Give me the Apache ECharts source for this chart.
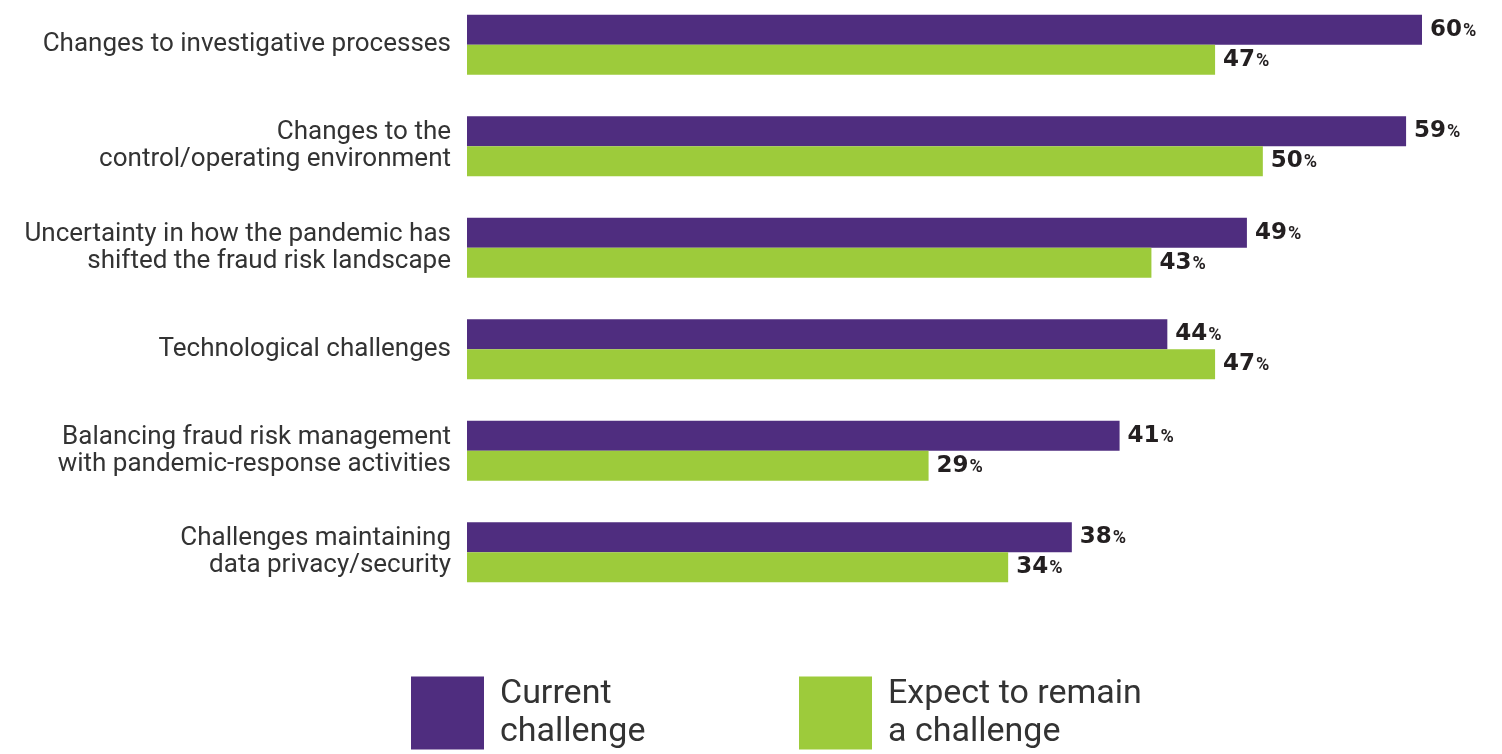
<!DOCTYPE html>
<html><head><meta charset="utf-8">
<script src="https://cdn.jsdelivr.net/npm/echarts@6/dist/echarts.min.js"></script>
<style>html,body{margin:0;padding:0;background:#fff;overflow:hidden}#c{width:1502px;height:760px;margin-top:-6px}</style>
</head><body><div id="c"></div>
<script>
const categories = [
  "Changes to investigative processes",
  "Changes to the\ncontrol/operating environment",
  "Uncertainty in how the pandemic has\nshifted the fraud risk landscape",
  "Technological challenges",
  "Balancing fraud risk management\nwith pandemic-response activities",
  "Challenges maintaining\ndata privacy/security"
];
const currentChallenge = [60, 59, 49, 44, 41, 38];
const expectRemain = [47, 50, 43, 47, 29, 34];
const seriesNames = ["Current challenge", "Expect to remain a challenge"];
const legendLabels = ["Current\nchallenge", "Expect to remain\na challenge"];

const PURPLE = '#4f2d7f', GREEN = '#9dcb3b';
const FONT = 'Roboto';
const chart = echarts.init(document.getElementById('c'));
const valLabel = {
  show: true, position: 'right', distance: 8,
  formatter: p => '{v|' + p.value + '}{p|%}',
  rich: {
    v: {fontFamily: 'DejaVu Sans', fontWeight: 'bold', fontSize: 23, color: '#231f20'},
    p: {fontFamily: FONT, fontWeight: 'bold', fontSize: 18, color: '#231f20', padding: [3,0,0,1]}
  }
};
const legendCommon = {
  orient: 'horizontal', top: 673, itemWidth: 73, itemHeight: 73, icon: 'rect',
  formatter: n => legendLabels[seriesNames.indexOf(n)],
  textStyle: {fontFamily: FONT, fontSize: 34, color: '#333', lineHeight: 38, padding: [6,0,0,11]}
};
chart.setOption({
  animation: false,
  grid: {left: 467, right: 80, top: 0, height: 609, containLabel: false},
  xAxis: {type: 'value', min: 0, max: 60, show: false},
  yAxis: {
    type: 'category', data: categories, inverse: true,
    axisLine: {show: false}, axisTick: {show: false},
    axisLabel: {fontFamily: FONT, fontSize: 26, lineHeight: 27, color: '#333', margin: 16, align: 'right', padding: [0,0,22,0]}
  },
  legend: [
    Object.assign({left: 406, data: [seriesNames[0]]}, legendCommon),
    Object.assign({left: 794, data: [seriesNames[1]]}, legendCommon)
  ],
  series: [
    {name: seriesNames[0], type: 'bar', data: currentChallenge, barWidth: 30, barGap: '0%',
     itemStyle: {color: PURPLE}, label: valLabel},
    {name: seriesNames[1], type: 'bar', data: expectRemain, barWidth: 30, barGap: '0%',
     itemStyle: {color: GREEN}, label: valLabel}
  ]
});
</script></body></html>
